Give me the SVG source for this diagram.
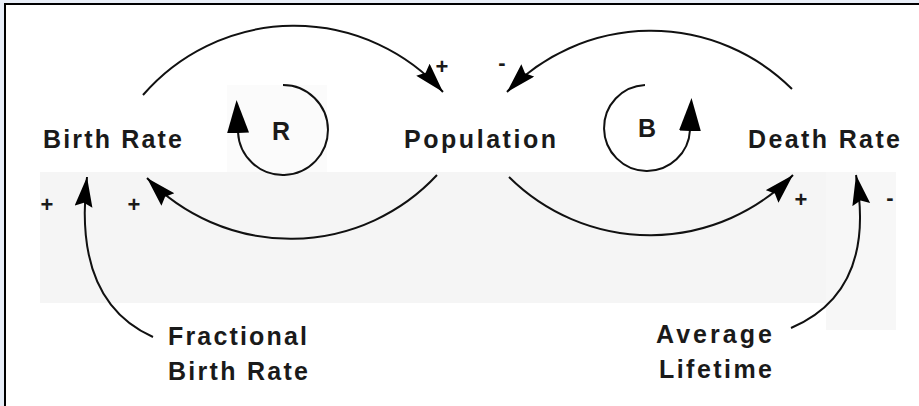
<svg xmlns="http://www.w3.org/2000/svg" width="919" height="406" viewBox="0 0 919 406">
  <style>
    .lbl { font-family: "Liberation Sans", Arial, sans-serif; font-weight: bold; font-size: 25px; fill: #1a1a1a; }
    .sign { font-family: "Liberation Sans", Arial, sans-serif; font-weight: bold; font-size: 22px; fill: #1a1a1a; text-anchor: middle; }
    .link { fill: none; stroke: #111; stroke-width: 2; marker-end: url(#head); }
    .loop { fill: none; stroke: #111; stroke-width: 2; marker-end: url(#loophead); }
  </style>
  <defs>
    <marker id="head" markerUnits="userSpaceOnUse" markerWidth="32" markerHeight="20" refX="30" refY="9" orient="auto">
      <path d="M0,0 L30,9 L0,18 L4,9 z" fill="#000"/>
    </marker>
    <marker id="loophead" markerUnits="userSpaceOnUse" markerWidth="36" markerHeight="24" refX="1" refY="11" orient="auto">
      <path d="M0,0 L33,11 L0,22 z" fill="#000"/>
    </marker>
  </defs>

  <!-- frame and background -->
  <rect x="0" y="0" width="919" height="406" fill="#e8eef8"/>
  <rect x="4" y="3" width="915" height="403" fill="#000"/>
  <rect x="6" y="5" width="913" height="401" fill="#fff"/>
  <rect x="40" y="172" width="830" height="131" fill="#f5f5f5"/>
  <rect x="826" y="172" width="70" height="158" fill="#f7f7f7"/>
  <rect x="227" y="85" width="100" height="87" fill="#fbfbfb"/>

  <g id="connectors">
    <path class="link" d="M143,95 A200,200 0 0 1 443,92"/>
    <path class="link" d="M792,89 A200,200 0 0 0 507,92"/>
    <path class="link" d="M437,175 A200,200 0 0 1 147,178"/>
    <path class="link" d="M509,177 A200,200 0 0 0 793,175"/>
    <path class="link" d="M153,337 C106,316 76,270 87,177"/>
    <path class="link" d="M791,328 C838,308 872,265 856,175"/>
    <text class="sign" x="442" y="74">+</text>
    <text class="sign" x="502" y="70">-</text>
    <text class="sign" x="47" y="212">+</text>
    <text class="sign" x="134" y="212">+</text>
    <text class="sign" x="801" y="207">+</text>
    <text class="sign" x="890" y="205">-</text>
  </g>

  <g id="loop_R">
    <path class="loop" d="M283,85 A45,45 0 1 1 238,132"/>
    <text class="lbl" x="281" y="140" text-anchor="middle">R</text>
  </g>
  <g id="loop_B">
    <path class="loop" d="M645,85 A43,43 0 1 0 690,130"/>
    <text class="lbl" x="647" y="137" text-anchor="middle">B</text>
  </g>

  <g id="birth_rate">
    <text class="lbl" x="43" y="148" textLength="139" lengthAdjust="spacing">Birth Rate</text>
  </g>
  <g id="population">
    <text class="lbl" x="404" y="148" textLength="152" lengthAdjust="spacing">Population</text>
  </g>
  <g id="death_rate">
    <text class="lbl" x="748" y="148" textLength="152" lengthAdjust="spacing">Death Rate</text>
  </g>
  <g id="fractional_birth_rate">
    <text class="lbl" x="168" y="345" textLength="139" lengthAdjust="spacing">Fractional</text>
    <text class="lbl" x="168" y="380" textLength="140" lengthAdjust="spacing">Birth Rate</text>
  </g>
  <g id="average_lifetime">
    <text class="lbl" x="656" y="343" textLength="116" lengthAdjust="spacing">Average</text>
    <text class="lbl" x="659" y="378" textLength="113" lengthAdjust="spacing">Lifetime</text>
  </g>
</svg>
